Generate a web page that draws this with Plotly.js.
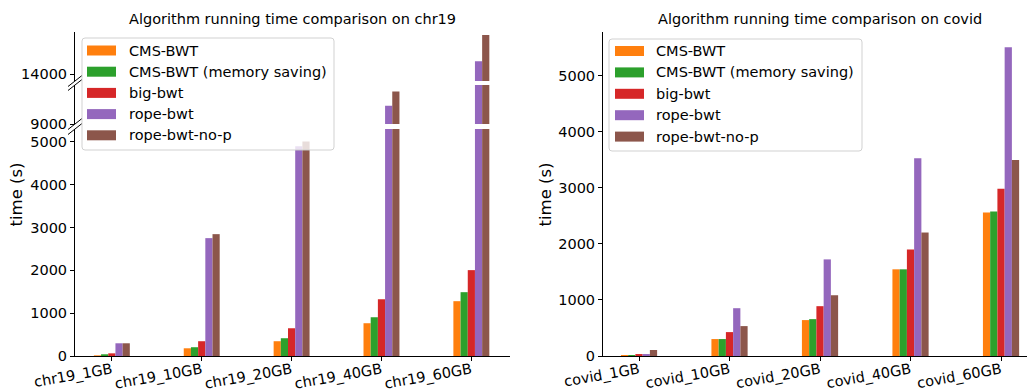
<!DOCTYPE html>
<html>
<head>
<meta charset="utf-8">
<script src="https://cdn.plot.ly/plotly-3.0.1.min.js"></script>
<style>
  html, body { margin: 0; padding: 0; background: #fff; }
  #chart { width: 1028px; height: 391px; }
</style>
</head>
<body>
<div id="chart"></div>
<script>
// ---------- data ----------
const seriesNames = ['CMS-BWT', 'CMS-BWT (memory saving)', 'big-bwt', 'rope-bwt', 'rope-bwt-no-p'];
const seriesColors = ['#ff7f0e', '#2ca02c', '#d62728', '#9467bd', '#8c564b'];

const chr19Categories = ['chr19_1GB', 'chr19_10GB', 'chr19_20GB', 'chr19_40GB', 'chr19_60GB'];
const chr19CmsBwt    = [15, 180, 345, 765, 1280];
const chr19CmsBwtMem = [40, 205, 415, 905, 1490];
const chr19BigBwt    = [62, 345, 648, 1325, 2005];
const chr19RopeBwt   = [297, 2752, 4900, 9420, 14300];
const chr19RopeBwtNoP = [297, 2845, 5010, 9750, 14910];

const covidCategories = ['covid_1GB', 'covid_10GB', 'covid_20GB', 'covid_40GB', 'covid_60GB'];
const covidCmsBwt    = [18, 302, 640, 1545, 2557];
const covidCmsBwtMem = [18, 302, 657, 1545, 2575];
const covidBigBwt    = [35, 426, 888, 1900, 2982];
const covidRopeBwt   = [35, 852, 1722, 3524, 5503];
const covidRopeBwtNoP = [107, 533, 1083, 2201, 3494];

const chr19Tick1 = [0, 1000, 2000, 3000, 4000, 5000];
const chr19Tick2 = [9000];
const chr19Tick3 = [14000];
const covidTicks = [0, 1000, 2000, 3000, 4000, 5000];

const chr19Series = [chr19CmsBwt, chr19CmsBwtMem, chr19BigBwt, chr19RopeBwt, chr19RopeBwtNoP];
const covidSeries = [covidCmsBwt, covidCmsBwtMem, covidBigBwt, covidRopeBwt, covidRopeBwtNoP];

// ---------- geometry helpers (pixel -> paper) ----------
const W = 1028, H = 391;
const ML = 75, MR = 1, MT = 32, MB = 35;
const PW = W - ML - MR, PH = H - MT - MB;
const px = x => (x - ML) / PW;
const py = y => (H - MB - y) / PH;

const FONT = 'DejaVu Sans, Liberation Sans, sans-serif';

// ---------- traces ----------
const traces = [];
['y', 'y2', 'y3'].forEach(ya => {
  chr19Series.forEach((vals, i) => {
    traces.push({
      type: 'bar', x: chr19Categories, y: vals, name: seriesNames[i],
      xaxis: 'x', yaxis: ya, marker: { color: seriesColors[i], line: { width: 0 } },
      showlegend: false, cliponaxis: true, hoverinfo: 'x+y+name'
    });
  });
});
covidSeries.forEach((vals, i) => {
  traces.push({
    type: 'bar', x: covidCategories, y: vals, name: seriesNames[i],
    xaxis: 'x2', yaxis: 'y4', marker: { color: seriesColors[i], line: { width: 0 } },
    showlegend: false, hoverinfo: 'x+y+name'
  });
});

// ---------- axes ----------
const tickFont = { family: FONT, size: 14.5, color: '#000' };
const yBase = {
  showline: true, linecolor: '#000', linewidth: 1, ticks: 'outside', ticklen: 4,
  tickcolor: '#000', tickwidth: 1, showgrid: false, zeroline: false, tickfont: tickFont,
  tickmode: 'array', fixedrange: true
};
const xBase = {
  type: 'category', showline: true, linecolor: '#000', linewidth: 1, ticks: 'outside',
  ticklen: 4, tickcolor: '#000', tickwidth: 1, showgrid: false, zeroline: false,
  tickfont: tickFont, tickangle: -10, fixedrange: true, ticklabelstandoff: -5
};

const seg1 = [0, py(129)], seg2 = [py(124), py(85)], seg3 = [py(81), 1];

const layout = {
  width: W, height: H,
  margin: { l: ML, r: MR, t: MT, b: MB, pad: 0 },
  paper_bgcolor: '#fff', plot_bgcolor: 'rgba(0,0,0,0)',
  barmode: 'group', bargap: 0.6, bargroupgap: 0,
  showlegend: false,
  xaxis: Object.assign({}, xBase, { domain: [0, px(510)], anchor: 'y', range: [-0.41, 4.43] }),
  xaxis2: Object.assign({}, xBase, { domain: [px(603), 1], anchor: 'y4', range: [-0.398, 4.287] }),
  yaxis: Object.assign({}, yBase, { domain: seg1, anchor: 'x', range: [0, 5300], tickvals: chr19Tick1, ticktext: chr19Tick1.map(String) }),
  yaxis2: Object.assign({}, yBase, { domain: seg2, anchor: 'x', range: [9000, 9900], tickvals: chr19Tick2, ticktext: chr19Tick2.map(String) }),
  yaxis3: Object.assign({}, yBase, { domain: seg3, anchor: 'x', range: [13840, 14980], tickvals: chr19Tick3, ticktext: chr19Tick3.map(String) }),
  yaxis4: Object.assign({}, yBase, { domain: [0, 1], anchor: 'x2', range: [0, 5775], tickvals: covidTicks, ticktext: covidTicks.map(String) }),
  shapes: [],
  annotations: []
};

// break marks on the chr19 axis
[81, 85, 124, 129].forEach(c => {
  layout.shapes.push({
    type: 'line', xref: 'paper', yref: 'paper',
    x0: px(68), y0: py(c + 5.5), x1: px(82), y1: py(c - 5.5),
    line: { color: '#000', width: 1 }, layer: 'above'
  });
});

// titles
layout.annotations.push({
  text: 'Algorithm running time comparison on chr19', xref: 'paper', yref: 'paper',
  x: px(292.5), y: py(19), showarrow: false, xanchor: 'center', yanchor: 'middle',
  font: { family: FONT, size: 14.5, color: '#000' }
});
layout.annotations.push({
  text: 'Algorithm running time comparison on covid', xref: 'paper', yref: 'paper',
  x: px(820), y: py(19), showarrow: false, xanchor: 'center', yanchor: 'middle',
  font: { family: FONT, size: 14.5, color: '#000' }
});
// y-axis titles
[16, 545].forEach(xc => {
  layout.annotations.push({
    text: 'time (s)', xref: 'paper', yref: 'paper', x: px(xc), y: py(194.5),
    showarrow: false, textangle: -90, xanchor: 'center', yanchor: 'middle',
    font: { family: FONT, size: 16.5, color: '#000' }
  });
});

// legends (matplotlib style)
function roundedRect(x0, y0, x1, y1, r) {
  return `M${px(x0 + r)},${py(y0)} L${px(x1 - r)},${py(y0)} Q${px(x1)},${py(y0)} ${px(x1)},${py(y0 + r)} ` +
         `L${px(x1)},${py(y1 - r)} Q${px(x1)},${py(y1)} ${px(x1 - r)},${py(y1)} ` +
         `L${px(x0 + r)},${py(y1)} Q${px(x0)},${py(y1)} ${px(x0)},${py(y1 - r)} ` +
         `L${px(x0)},${py(y0 + r)} Q${px(x0)},${py(y0)} ${px(x0 + r)},${py(y0)} Z`;
}
function addLegend(bx0, by0, bx1, by1, swX, txtX, rowY0, rowStep) {
  layout.shapes.push({
    type: 'path', xref: 'paper', yref: 'paper', path: roundedRect(bx0, by0, bx1, by1, 3),
    fillcolor: 'rgba(255,255,255,0.8)', line: { color: 'rgba(204,204,204,0.9)', width: 1 }, layer: 'above'
  });
  seriesNames.forEach((name, i) => {
    const cy = rowY0 + i * rowStep;
    layout.shapes.push({
      type: 'rect', xref: 'paper', yref: 'paper',
      x0: px(swX), x1: px(swX + 29), y0: py(cy + 5), y1: py(cy - 5),
      fillcolor: seriesColors[i], line: { width: 0 }, layer: 'above'
    });
    layout.annotations.push({
      text: name, xref: 'paper', yref: 'paper', x: px(txtX), y: py(cy),
      showarrow: false, xanchor: 'left', yanchor: 'middle',
      font: { family: FONT, size: 14.5, color: '#000' }
    });
  });
}
addLegend(82, 38, 334, 150, 87, 127, 50.5, 21.2);
addLegend(609, 39, 862, 151, 615, 654, 51, 21.4);

Plotly.newPlot('chart', traces, layout, { staticPlot: true, displayModeBar: false });
</script>
</body>
</html>
